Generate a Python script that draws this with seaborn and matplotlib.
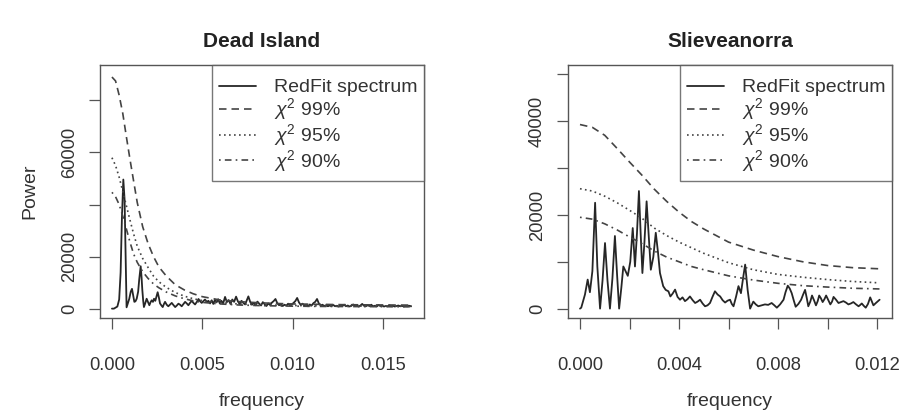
import matplotlib.pyplot as plt
import seaborn as sns

# spectrum values (frequency, power)
dead_freq = [0.00000, 0.00011, 0.00030, 0.00040, 0.00048, 0.00055, 0.00063, 0.00070, 0.00076, 0.00081,
             0.00088, 0.00096, 0.00104, 0.00111, 0.00118, 0.00124, 0.00130, 0.00137, 0.00145, 0.00151,
             0.00159, 0.00164, 0.00168, 0.00173, 0.00177, 0.00184, 0.00192, 0.00200, 0.00207, 0.00214,
             0.00220, 0.00227, 0.00233, 0.00240, 0.00246, 0.00253, 0.00260, 0.00266, 0.00274, 0.00281,
             0.00288, 0.00294, 0.00303, 0.00312, 0.00322, 0.00331, 0.00340, 0.00350, 0.00359, 0.00368,
             0.00377, 0.00386, 0.00395, 0.00405, 0.00414, 0.00423, 0.00432, 0.00442, 0.00451, 0.00460,
             0.00470, 0.00479, 0.00488, 0.00497, 0.00506, 0.00515, 0.00525, 0.00534, 0.00543, 0.00552,
             0.00561, 0.00570, 0.00579, 0.00588, 0.00597, 0.00606, 0.00615, 0.00626, 0.00636, 0.00646,
             0.00656, 0.00666, 0.00676, 0.00687, 0.00697, 0.00707, 0.00717, 0.00727, 0.00737, 0.00746,
             0.00755, 0.00765, 0.00775, 0.00785, 0.00795, 0.00805, 0.00815, 0.00825, 0.00835, 0.00845,
             0.00855, 0.00865, 0.00875, 0.00885, 0.00895, 0.00905, 0.00915, 0.00925, 0.00935, 0.00945,
             0.00955, 0.00965, 0.00975, 0.00985, 0.00995, 0.01005, 0.01015, 0.01025, 0.01035, 0.01045,
             0.01055, 0.01065, 0.01075, 0.01085, 0.01095, 0.01105, 0.01115, 0.01125, 0.01135, 0.01145,
             0.01155, 0.01165, 0.01175, 0.01185, 0.01195, 0.01205, 0.01215, 0.01225, 0.01235, 0.01245,
             0.01255, 0.01265, 0.01275, 0.01285, 0.01295, 0.01305, 0.01315, 0.01325, 0.01335, 0.01345,
             0.01355, 0.01365, 0.01375, 0.01385, 0.01395, 0.01405, 0.01415, 0.01425, 0.01435, 0.01445,
             0.01455, 0.01465, 0.01475, 0.01485, 0.01495, 0.01505, 0.01515, 0.01525, 0.01535, 0.01545,
             0.01555, 0.01565, 0.01575, 0.01585, 0.01595, 0.01605, 0.01615, 0.01625, 0.01635, 0.01645,
             0.01655]
dead_power = [0, 0, 800, 3500, 13800, 34200, 49600, 41900, 18800, 500,
              2000, 3800, 6500, 7600, 5000, 2600, 2800, 3800, 6500, 11200,
              16300, 12000, 7300, 3000, 600, 2000, 3800, 2500, 1300, 2500,
              3200, 2600, 3800, 3000, 4500, 6300, 4200, 2000, 1200, 600,
              1800, 2600, 1500, 900, 1600, 2200, 1400, 600, 1200, 1900,
              1500, 900, 1700, 2600, 2000, 1300, 2200, 3000, 2200, 1600,
              2600, 3700, 2800, 2200, 2900, 3500, 2600, 3000, 2000, 3200,
              1800, 3400, 2400, 3600, 2000, 3000, 1900, 4500, 2500, 3300,
              1800, 3500, 2600, 4600, 2800, 1700, 3000, 2200, 1600, 3200,
              4700, 2600, 1500, 2200, 1300, 2700, 1900, 1200, 2500, 1700,
              1000, 2000, 1400, 2300, 2900, 3700, 2100, 1300, 1800, 1000,
              1500, 1100, 1900, 1300, 1600, 2200, 2900, 4100, 2400, 1400,
              1900, 1100, 1500, 900, 1600, 1200, 2100, 2600, 3700, 2000,
              1200, 1500, 1000, 1300, 900, 1200, 1000, 1400, 900, 1100,
              800, 1300, 1000, 1500, 900, 1200, 800, 1100, 1600, 1000,
              1300, 800, 1200, 1800, 1100, 900, 1300, 1000, 1500, 900,
              1100, 800, 1400, 1000, 1200, 800, 1000, 900, 1300, 900,
              1100, 800, 1000, 1200, 900, 1100, 800, 1000, 900, 1100,
              900]

# chi-square significance levels (Dead Island)
dead_ci_freq = [0, 0.0002, 0.0004, 0.0006, 0.0008, 0.0010, 0.0012, 0.0014, 0.0017, 0.0020,
                0.0023, 0.0026, 0.0030, 0.0035, 0.0040, 0.0045, 0.0050, 0.0060, 0.0070, 0.0080,
                0.0090, 0.0100, 0.0115, 0.0130, 0.0150, 0.0166]
dead_ci99 = [89000, 87500, 82000, 75000, 66000, 57300, 49000, 40800, 31500, 25000,
             20000, 16000, 12600, 9200, 7200, 5700, 4600, 3300, 2700, 2300,
             2000, 1800, 1650, 1500, 1400, 1350]
dead_ci95 = [58000, 55000, 50500, 45000, 39500, 34000, 28700, 24000, 19300, 15800,
             12500, 10300, 8200, 6200, 4800, 3800, 3100, 2300, 1800, 1550,
             1350, 1200, 1100, 1000, 950, 900]
dead_ci90 = [44700, 43000, 40000, 35500, 30600, 25500, 21000, 17800, 14200, 11600,
             9500, 8000, 6400, 4900, 3800, 3000, 2400, 1800, 1400, 1200,
             1050, 950, 850, 800, 750, 700]

slieve_freq = [0.00000, 0.00005, 0.00020, 0.00031, 0.00040, 0.00050, 0.00061, 0.00070, 0.00081, 0.00091,
               0.00101, 0.00111, 0.00121, 0.00131, 0.00141, 0.00150, 0.00158, 0.00167, 0.00175, 0.00184,
               0.00193, 0.00203, 0.00213, 0.00222, 0.00230, 0.00238, 0.00245, 0.00252, 0.00260, 0.00269,
               0.00277, 0.00286, 0.00296, 0.00306, 0.00315, 0.00323, 0.00336, 0.00346, 0.00357, 0.00365,
               0.00374, 0.00384, 0.00394, 0.00404, 0.00414, 0.00424, 0.00434, 0.00444, 0.00455, 0.00465,
               0.00475, 0.00485, 0.00495, 0.00505, 0.00515, 0.00525, 0.00535, 0.00545, 0.00556, 0.00566,
               0.00576, 0.00586, 0.00596, 0.00606, 0.00613, 0.00620, 0.00630, 0.00640, 0.00650, 0.00660,
               0.00667, 0.00677, 0.00687, 0.00700, 0.00710, 0.00720, 0.00733, 0.00747, 0.00760, 0.00774,
               0.00785, 0.00795, 0.00808, 0.00822, 0.00830, 0.00839, 0.00847, 0.00855, 0.00863, 0.00871,
               0.00882, 0.00893, 0.00901, 0.00909, 0.00916, 0.00922, 0.00930, 0.00937, 0.00945, 0.00953,
               0.00960, 0.00966, 0.00973, 0.00980, 0.00987, 0.00994, 0.01003, 0.01011, 0.01018, 0.01024,
               0.01034, 0.01044, 0.01054, 0.01064, 0.01074, 0.01084, 0.01094, 0.01104, 0.01115, 0.01125,
               0.01132, 0.01138, 0.01146, 0.01154, 0.01163, 0.01172, 0.01179, 0.01185, 0.01195, 0.01210]
slieve_power = [0, 200, 3000, 6200, 3500, 8000, 22600, 9000, 0, 6000,
                14000, 6000, 0, 6500, 15500, 7000, 0, 4500, 9000, 8000,
                7000, 10000, 17200, 9000, 16000, 25100, 16000, 7600, 14000, 22900,
                16000, 8300, 11000, 16200, 12000, 7600, 4800, 4000, 3700, 2600,
                3200, 4060, 2500, 1900, 2400, 1600, 2000, 2600, 1800, 1200,
                1500, 1900, 1100, 500, 700, 1200, 2500, 3700, 3000, 2600,
                1800, 1300, 1700, 1900, 1000, 500, 2500, 4800, 3300, 7000,
                9400, 4000, 0, 1500, 900, 500, 700, 900, 800, 1200,
                700, 200, 900, 1900, 3500, 4900, 4300, 3300, 1800, 400,
                1000, 1900, 3000, 4000, 2200, 500, 1500, 2800, 1800, 700,
                1600, 2800, 2200, 1400, 2000, 2800, 1800, 900, 1500, 2500,
                1900, 1200, 1400, 1600, 1300, 900, 1100, 1400, 900, 500,
                800, 1100, 600, 200, 1000, 2400, 1500, 700, 1200, 1900]

slieve_ci_freq = [0, 0.0005, 0.0010, 0.0015, 0.0020, 0.0025, 0.0030, 0.0035, 0.0040, 0.0045,
                  0.0050, 0.0060, 0.0070, 0.0080, 0.0090, 0.0100, 0.0110, 0.0121]
slieve_ci99 = [39300, 38700, 37000, 34200, 31300, 28500, 25500, 22900, 20600, 18600,
               17000, 14200, 12500, 11100, 10000, 9200, 8750, 8500]
slieve_ci95 = [25600, 25100, 24000, 22600, 21000, 19300, 17200, 15600, 14200, 13000,
               11800, 9800, 8300, 7300, 6700, 6200, 5800, 5500]
slieve_ci90 = [19500, 19100, 18100, 16800, 15300, 13900, 12300, 11000, 10000, 9000,
               8300, 7000, 6100, 5400, 4900, 4600, 4350, 4200]

legend_labels = ['RedFit spectrum', r'$\chi^2$ 99%', r'$\chi^2$ 95%', r'$\chi^2$ 90%']

sns.set_style('ticks')
plt.rcParams['font.family'] = ['Liberation Sans', 'DejaVu Sans']
plt.rcParams['mathtext.fontset'] = 'custom'
plt.rcParams['mathtext.rm'] = 'Liberation Sans'
plt.rcParams['mathtext.it'] = 'Liberation Sans:italic'

ink = '#262626'
frame = '#555555'


def panel(ax, freq, power, ci_freq, c99, c95, c90, title, xticks, xlabels,
          yticks, ylabels, xlim, ylim):
    sns.lineplot(x=freq, y=power, ax=ax, color=ink, lw=1.3, label=legend_labels[0])
    sns.lineplot(x=ci_freq, y=c99, ax=ax, color='#444444', lw=1.2,
                 linestyle=(0, (4.5, 3)), label=legend_labels[1])
    sns.lineplot(x=ci_freq, y=c95, ax=ax, color='#444444', lw=1.2,
                 linestyle=(0, (1, 2)), label=legend_labels[2])
    sns.lineplot(x=ci_freq, y=c90, ax=ax, color='#444444', lw=1.2,
                 linestyle=(0, (1, 2.5, 4, 2.5)), label=legend_labels[3])
    ax.set_xlim(xlim)
    ax.set_ylim(ylim)
    ax.set_xticks(xticks)
    ax.set_xticklabels(xlabels)
    ax.set_yticks(yticks)
    ax.set_yticklabels(ylabels, rotation=90, va='center')
    ax.tick_params(axis='both', direction='out', length=8, width=0.9, color=frame,
                   labelsize=13.2, labelcolor='#333333')
    ax.tick_params(axis='x', pad=20)
    ax.tick_params(axis='y', pad=8)
    for s in ax.spines.values():
        s.set_color(frame)
        s.set_linewidth(1.0)
    ax.set_title(title, fontsize=15, fontweight='bold', color='#222222', pad=13)
    ax.set_xlabel('frequency', fontsize=14, color='#333333', labelpad=14)
    # an invisible small legend title gives the extra room above the first row
    leg = ax.legend(loc='upper right', fontsize=14, frameon=True, fancybox=False,
                    borderaxespad=0, borderpad=0.35, handlelength=1.9,
                    handletextpad=0.9, labelspacing=0.0,
                    title='x', title_fontsize=5.5)
    leg.get_title().set_color('none')
    leg.get_frame().set_edgecolor(frame)
    leg.get_frame().set_linewidth(1.0)
    for t in leg.get_texts():
        t.set_color('#333333')


fig = plt.figure(figsize=(9.01, 4.16), dpi=100)
ax1 = fig.add_axes([0.111, 0.2356, 0.3596, 0.608])
ax2 = fig.add_axes([0.6304, 0.2356, 0.3596, 0.608])

panel(ax1, dead_freq, dead_power, dead_ci_freq, dead_ci99, dead_ci95, dead_ci90,
      'Dead Island', [0, 0.005, 0.010, 0.015], ['0.000', '0.005', '0.010', '0.015'],
      [0, 20000, 40000, 60000, 80000], ['0', '20000', '', '60000', ''],
      (-0.00066, 0.01727), (-3600, 93600))
ax1.set_ylabel('Power', fontsize=14, color='#333333', labelpad=16)

panel(ax2, slieve_freq, slieve_power, slieve_ci_freq, slieve_ci99, slieve_ci95, slieve_ci90,
      'Slieveanorra', [0, 0.002, 0.004, 0.006, 0.008, 0.010, 0.012],
      ['0.000', '', '0.004', '', '0.008', '', '0.012'],
      [0, 10000, 20000, 30000, 40000, 50000], ['0', '', '20000', '', '40000', ''],
      (-0.000485, 0.0126), (-2000, 52000))

fig.savefig('out.png', dpi=100, facecolor='white')
